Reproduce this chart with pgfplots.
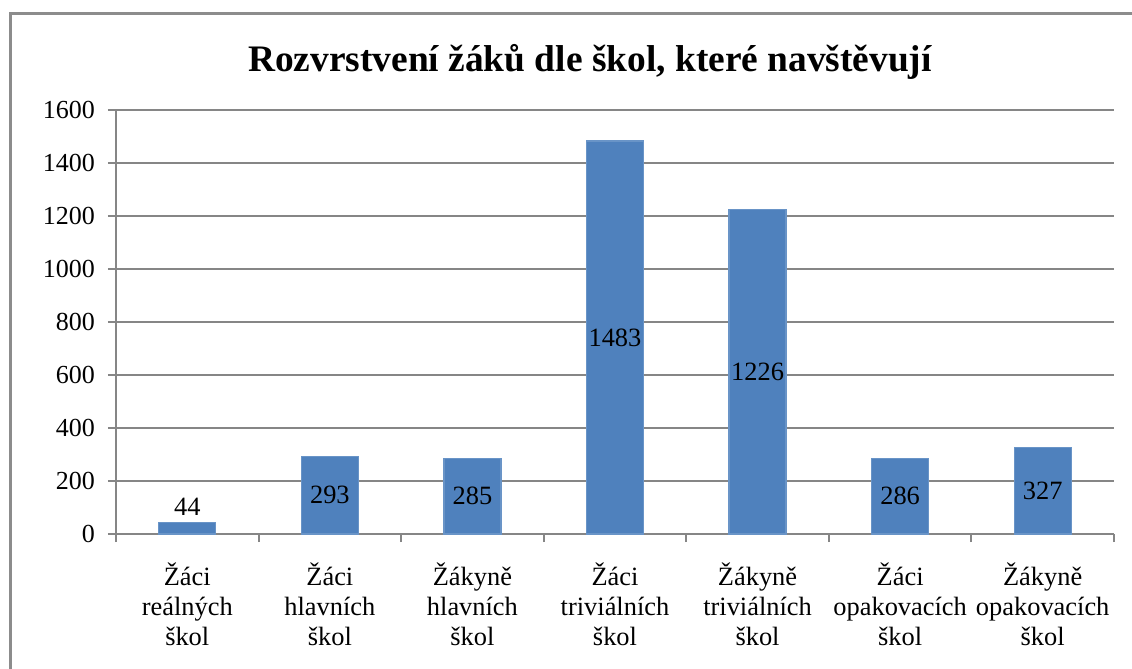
\documentclass[border=0pt]{standalone}
\usepackage{fontspec}
\setmainfont{Liberation Serif}
\usepackage{pgfplots}
\pgfplotsset{compat=1.18}
\definecolor{barblue}{HTML}{4F81BD}
\definecolor{gridgray}{HTML}{868686}
\pgfplotstableread{
x v ly
0 44 102
1 293 146.5
2 285 142.5
3 1483 741.5
4 1226 613
5 286 143
6 327 163.5
}\datatab
\begin{document}
\begin{tikzpicture}
\useasboundingbox (0,0) rectangle (566pt,-334.5pt);
\draw[gridgray!95, line width=1.5pt] (5pt,-360pt) -- (5pt,-6.5pt) -- (620pt,-6.5pt);
\node[font=\bfseries\fontsize{18.7}{22}\selectfont, anchor=base, inner sep=0pt] at (295pt,-35.5pt) {Rozvrstvení žáků dle škol, které navštěvují};
\begin{axis}[
  at={(58pt,-267pt)}, anchor=south west,
  scale only axis, width=499pt, height=212pt,
  xmin=-0.5, xmax=6.5, ymin=0, ymax=1600,
  ytick={0,200,...,1600},
  xtick={-0.5,0.5,...,6.5},
  xticklabels={},
  extra x ticks={0,1,2,3,4,5,6},
  extra x tick labels={{Žáci\\reálných\\škol},{Žáci\\hlavních\\škol},{Žákyně\\hlavních\\škol},{Žáci\\triviálních\\škol},{Žákyně\\triviálních\\škol},{Žáci\\opakovacích\\škol},{Žákyně\\opakovacích\\škol}},
  extra x tick style={major tick length=0pt, grid=none},
  axis x line*=bottom, axis y line*=left,
  axis line style={gridgray, line width=1pt, -},
  tick style={gridgray, line width=1pt},
  tick align=outside, major tick length=4pt,
  ymajorgrids, grid style={gridgray, line width=0.8pt},
  /pgf/number format/assume math mode=true,
  /pgf/number format/1000 sep={},
  yticklabel style={font=\fontsize{13}{15}\selectfont, xshift=-3pt},
  xticklabel style={font=\fontsize{13.2}{15}\selectfont, align=center, yshift=-11pt},
  clip=false,
]
\addplot[ybar, bar width=28.5pt, fill=barblue, draw=barblue!85!white, line width=0.6pt] table[x=x, y=v] {\datatab};
\addplot[draw=none, mark=none, nodes near coords, point meta=explicit,
  every node near coord/.style={anchor=center, font=\fontsize{13.2}{15}\selectfont, text=black}]
  table[x=x, y=ly, meta=v] {\datatab};
\end{axis}
\end{tikzpicture}
\end{document}
